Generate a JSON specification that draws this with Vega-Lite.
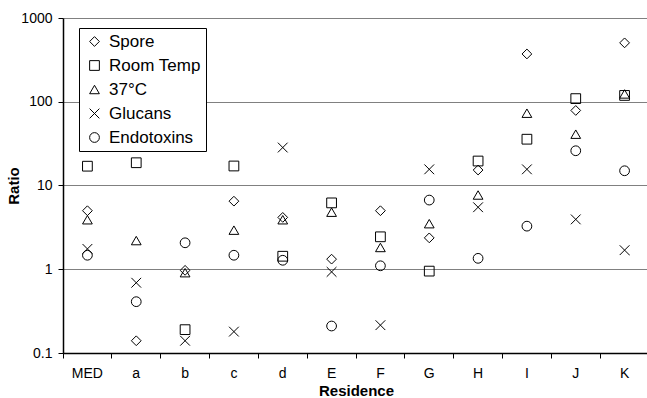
{
  "$schema": "https://vega.github.io/schema/vega-lite/v6.json",
  "width": 586,
  "height": 335,
  "autosize": "none",
  "padding": {"left": 63, "top": 18, "right": 0, "bottom": 45},
  "background": "white",
  "config": {
    "font": "Liberation Sans",
    "view": {"stroke": null},
    "axis": {"labelColor": "black", "titleColor": "black", "labelFont": "Liberation Sans", "titleFont": "Liberation Sans"}
  },
  "data": {
    "values": [
      {"residence": "MED", "measure": "Spore", "value": 5.0},
      {"residence": "MED", "measure": "Room Temp", "value": 17},
      {"residence": "MED", "measure": "37°C", "value": 3.9},
      {"residence": "MED", "measure": "Glucans", "value": 1.75},
      {"residence": "MED", "measure": "Endotoxins", "value": 1.47},
      {"residence": "a", "measure": "Spore", "value": 0.14},
      {"residence": "a", "measure": "Room Temp", "value": 18.7},
      {"residence": "a", "measure": "37°C", "value": 2.2},
      {"residence": "a", "measure": "Glucans", "value": 0.69},
      {"residence": "a", "measure": "Endotoxins", "value": 0.41},
      {"residence": "b", "measure": "Spore", "value": 0.97},
      {"residence": "b", "measure": "Room Temp", "value": 0.19},
      {"residence": "b", "measure": "37°C", "value": 0.91},
      {"residence": "b", "measure": "Glucans", "value": 0.14},
      {"residence": "b", "measure": "Endotoxins", "value": 2.07},
      {"residence": "c", "measure": "Spore", "value": 6.5},
      {"residence": "c", "measure": "Room Temp", "value": 17.1},
      {"residence": "c", "measure": "37°C", "value": 2.93},
      {"residence": "c", "measure": "Glucans", "value": 0.18},
      {"residence": "c", "measure": "Endotoxins", "value": 1.47},
      {"residence": "d", "measure": "Spore", "value": 4.16},
      {"residence": "d", "measure": "Room Temp", "value": 1.43},
      {"residence": "d", "measure": "37°C", "value": 3.9},
      {"residence": "d", "measure": "Glucans", "value": 28.4},
      {"residence": "d", "measure": "Endotoxins", "value": 1.28},
      {"residence": "E", "measure": "Spore", "value": 1.32},
      {"residence": "E", "measure": "Room Temp", "value": 6.2},
      {"residence": "E", "measure": "37°C", "value": 4.8},
      {"residence": "E", "measure": "Glucans", "value": 0.93},
      {"residence": "E", "measure": "Endotoxins", "value": 0.21},
      {"residence": "F", "measure": "Spore", "value": 5.0},
      {"residence": "F", "measure": "Room Temp", "value": 2.44},
      {"residence": "F", "measure": "37°C", "value": 1.82},
      {"residence": "F", "measure": "Glucans", "value": 0.215},
      {"residence": "F", "measure": "Endotoxins", "value": 1.1},
      {"residence": "G", "measure": "Spore", "value": 2.37},
      {"residence": "G", "measure": "Room Temp", "value": 0.95},
      {"residence": "G", "measure": "37°C", "value": 3.5},
      {"residence": "G", "measure": "Glucans", "value": 15.6},
      {"residence": "G", "measure": "Endotoxins", "value": 6.7},
      {"residence": "H", "measure": "Spore", "value": 15.3},
      {"residence": "H", "measure": "Room Temp", "value": 19.6},
      {"residence": "H", "measure": "37°C", "value": 7.7},
      {"residence": "H", "measure": "Glucans", "value": 5.5},
      {"residence": "H", "measure": "Endotoxins", "value": 1.35},
      {"residence": "I", "measure": "Spore", "value": 372},
      {"residence": "I", "measure": "Room Temp", "value": 35.7},
      {"residence": "I", "measure": "37°C", "value": 73},
      {"residence": "I", "measure": "Glucans", "value": 15.6},
      {"residence": "I", "measure": "Endotoxins", "value": 3.27},
      {"residence": "J", "measure": "Spore", "value": 78.7},
      {"residence": "J", "measure": "Room Temp", "value": 109},
      {"residence": "J", "measure": "37°C", "value": 41},
      {"residence": "J", "measure": "Glucans", "value": 3.94},
      {"residence": "J", "measure": "Endotoxins", "value": 26},
      {"residence": "K", "measure": "Spore", "value": 505},
      {"residence": "K", "measure": "Room Temp", "value": 119},
      {"residence": "K", "measure": "37°C", "value": 124},
      {"residence": "K", "measure": "Glucans", "value": 1.69},
      {"residence": "K", "measure": "Endotoxins", "value": 15}
    ]
  },
  "mark": {"type": "point", "filled": false, "stroke": "black", "strokeWidth": 1, "size": 95, "opacity": 1},
  "encoding": {
    "x": {
      "field": "residence",
      "type": "nominal",
      "sort": ["MED", "a", "b", "c", "d", "E", "F", "G", "H", "I", "J", "K"],
      "scale": {"type": "band", "paddingInner": 0, "paddingOuter": 0},
      "axis": {
        "title": "Residence",
        "titleFontSize": 15,
        "titleFontWeight": "bold",
        "titlePadding": 3,
        "labelAngle": 0,
        "labelFontSize": 14,
        "labelPadding": 8,
        "bandPosition": 0,
        "ticks": true,
        "tickSize": 5,
        "tickColor": "black",
        "tickWidth": 1,
        "domainColor": "black",
        "domainWidth": 1.5,
        "grid": false
      }
    },
    "y": {
      "field": "value",
      "type": "quantitative",
      "scale": {"type": "log", "domain": [0.1, 1000], "nice": false},
      "axis": {
        "title": "Ratio",
        "titleFontSize": 15,
        "titleFontWeight": "bold",
        "titlePadding": -1,
        "values": [0.1, 1, 10, 100, 1000],
        "format": "~g",
        "labelFontSize": 14,
        "labelPadding": 6,
        "tickSize": 5,
        "tickColor": "black",
        "tickWidth": 1,
        "domainColor": "black",
        "domainWidth": 1.5,
        "grid": true,
        "gridColor": "#808080",
        "gridWidth": 1
      }
    },
    "shape": {
      "field": "measure",
      "type": "nominal",
      "scale": {
        "domain": ["Spore", "Room Temp", "37°C", "Glucans", "Endotoxins"],
        "range": ["diamond", "square", "triangle-up", "M-1,-1L1,1M-1,1L1,-1", "circle"]
      },
      "legend": {
        "title": null,
        "orient": "none",
        "legendX": 16,
        "legendY": 10,
        "padding": 5,
        "symbolOffset": 2,
        "symbolSize": 95,
        "symbolStrokeColor": "black",
        "symbolFillColor": "transparent",
        "symbolStrokeWidth": 1,
        "labelFontSize": 17,
        "labelFont": "Liberation Sans",
        "labelColor": "black",
        "labelOffset": 6,
        "rowPadding": 6,
        "labelExpr": "datum.label + '\u00a0\u00a0'",
        "strokeColor": "black",
        "fillColor": "white"
      }
    }
  }
}
